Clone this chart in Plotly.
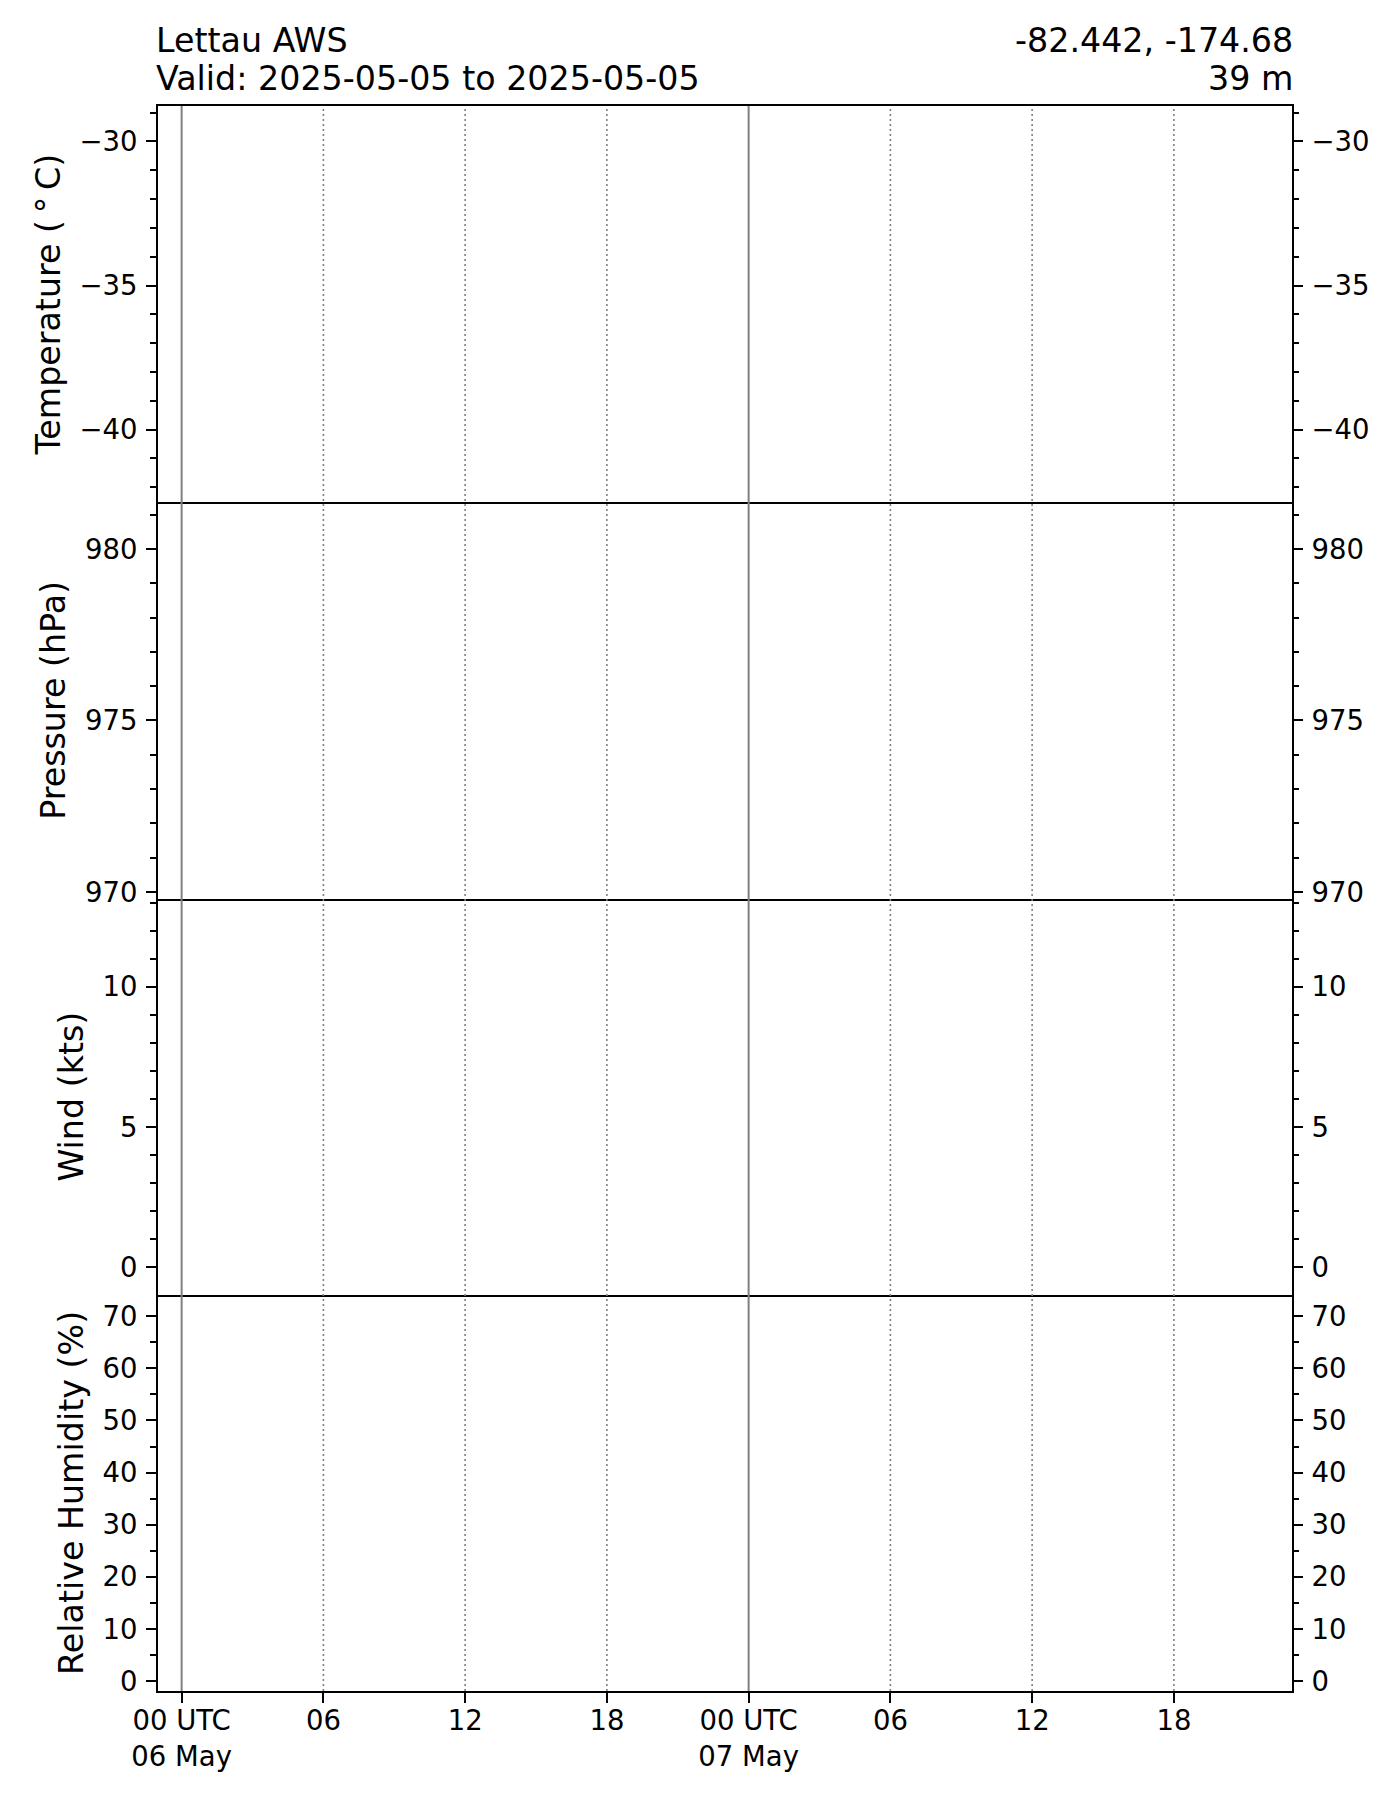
import plotly.graph_objects as go
from plotly.subplots import make_subplots

# ---------------- data ----------------
station_name = "Lettau AWS"
valid_text = "Valid: 2025-05-05 to 2025-05-05"
location_text = "-82.442, -174.68"
elevation_text = "39 m"

# observation series (no observations in the valid window)
times = []
temperature = []
pressure = []
wind_speed = []
rel_humidity = []

# x axis
x_range = ["2025-05-05 23:00", "2025-05-07 23:00"]
tick_times = ["2025-05-06 00:00", "2025-05-06 06:00", "2025-05-06 12:00", "2025-05-06 18:00",
              "2025-05-07 00:00", "2025-05-07 06:00", "2025-05-07 12:00", "2025-05-07 18:00"]
tick_labels = ["00 UTC<br>06 May", "06", "12", "18", "00 UTC<br>07 May", "06", "12", "18"]
day_starts = ["2025-05-06 00:00", "2025-05-07 00:00"]
synoptic_hours = ["2025-05-06 06:00", "2025-05-06 12:00", "2025-05-06 18:00",
                  "2025-05-07 06:00", "2025-05-07 12:00", "2025-05-07 18:00"]

# panels
panel_titles = ["Temperature (\u2009\u00b0\u2009C)", "Pressure (hPa)", "Wind (kts)", "Relative Humidity (%)"]
panel_series = [temperature, pressure, wind_speed, rel_humidity]
panel_ranges = [[-42.52, -28.77], [969.81, 981.36], [-0.99, 13.15], [-1.92, 74.13]]
panel_major = [5, 5, 5, 10]
panel_minor = [1, 1, 1, 5]

# ---------------- figure ----------------
FONT = "DejaVu Sans"
TICK_FS = 27.5
LABEL_FS = 33.3
OFF = 6  # page body margin compensation

fig = make_subplots(rows=4, cols=1, shared_xaxes=True, vertical_spacing=0,
                    specs=[[{"secondary_y": True}]] * 4)

for i, series in enumerate(panel_series):
    r = i + 1
    fig.add_trace(go.Scatter(x=times, y=series, mode="lines", line=dict(color="black"),
                             showlegend=False), row=r, col=1, secondary_y=False)
    fig.add_trace(go.Scatter(x=times, y=series, mode="lines", line=dict(color="black"),
                             showlegend=False, hoverinfo="skip"), row=r, col=1, secondary_y=True)
    common = dict(range=panel_ranges[i], dtick=panel_major[i], tick0=0, tickmode="linear",
                  ticks="outside", ticklen=10, tickwidth=2, tickcolor="black",
                  tickfont=dict(family=FONT, size=TICK_FS, color="black"),
                  minor=dict(ticks="outside", dtick=panel_minor[i], tick0=0, ticklen=6,
                             tickwidth=1.6, tickcolor="black", showgrid=False),
                  showgrid=False, zeroline=False, ticklabelstandoff=3, fixedrange=True)
    fig.update_yaxes(row=r, col=1, secondary_y=False, showline=True, mirror=True,
                     linecolor="black", linewidth=2,
                     title=dict(text=panel_titles[i], font=dict(family=FONT, size=LABEL_FS, color="black"),
                                standoff=9),
                     **common)
    fig.update_yaxes(row=r, col=1, secondary_y=True, side="right", showline=False,
                     **common)
    fig.update_xaxes(row=r, col=1, type="date", range=x_range, domain=[0, 1],
                     showline=True, mirror=(r == 1),
                     linecolor="black", linewidth=2, showgrid=False, zeroline=False,
                     tickmode="array", tickvals=tick_times, ticktext=tick_labels,
                     ticks="outside" if r == 4 else "", ticklen=10, tickwidth=2, tickcolor="black",
                     showticklabels=(r == 4),
                     tickfont=dict(family=FONT, size=TICK_FS, color="black"),
                     ticklabelstandoff=-6)

shapes = []
for t in day_starts:
    shapes.append(dict(type="line", xref="x", yref="paper", x0=t, x1=t, y0=0, y1=1,
                       line=dict(color="#808080", width=2)))
for t in synoptic_hours:
    shapes.append(dict(type="line", xref="x", yref="paper", x0=t, x1=t, y0=0, y1=1,
                       line=dict(color="#808080", width=1.6, dash="2px,3px")))

W, H = 1400, 1800
ML = 158 - 8
MT = 104 - OFF
MR = W - (1292 - 8)
MB = H - (1689 - OFF)
ph = H - MT - MB


def ypaper(abs_px):
    return (H - MB - (abs_px - OFF)) / ph


title_font = dict(family=FONT, size=LABEL_FS, color="black")
annotations = [
    dict(text=station_name, x=0, xref="paper", xanchor="left", xshift=-4, y=ypaper(38.5), yref="paper",
         yanchor="middle", showarrow=False, font=title_font),
    dict(text=valid_text, x=0, xref="paper", xanchor="left", xshift=-4, y=ypaper(76.5), yref="paper",
         yanchor="middle", showarrow=False, font=title_font),
    dict(text=location_text, x=1, xref="paper", xanchor="right", xshift=3, y=ypaper(38.5), yref="paper",
         yanchor="middle", showarrow=False, font=title_font),
    dict(text=elevation_text, x=1, xref="paper", xanchor="right", xshift=3, y=ypaper(76.5), yref="paper",
         yanchor="middle", showarrow=False, font=title_font),
]

fig.update_layout(width=W, height=H, margin=dict(l=ML, r=MR, t=MT, b=MB, autoexpand=False),
                  plot_bgcolor="white", paper_bgcolor="white", showlegend=False,
                  font=dict(family=FONT, color="black"),
                  shapes=shapes, annotations=annotations)

fig.write_html("out.html")
